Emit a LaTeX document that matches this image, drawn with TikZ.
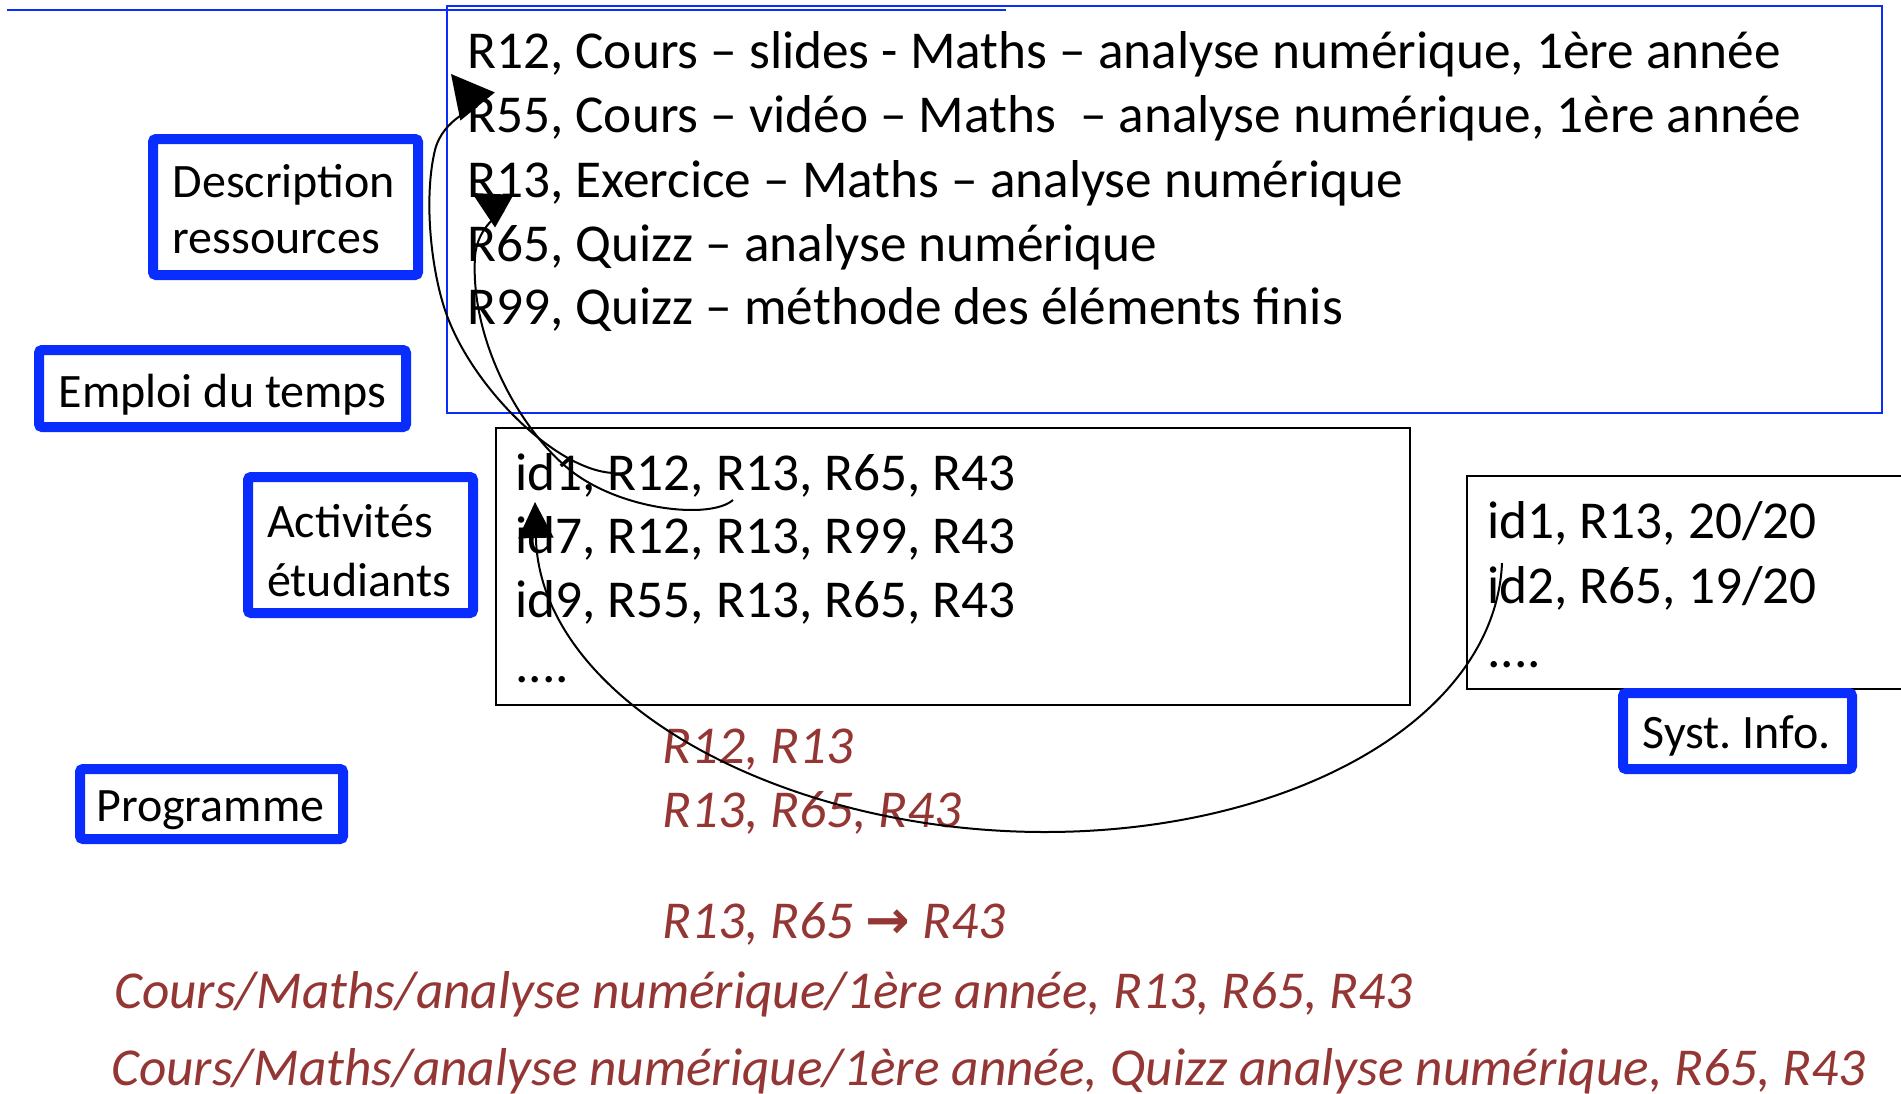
\documentclass[tikz,border=0pt]{standalone}
\usepackage{fontspec}
\setmainfont{Carlito}
\newfontfamily\symfont{DejaVu Sans}
\usetikzlibrary{arrows.meta}
\definecolor{lblue}{RGB}{10,45,255}
\definecolor{dred}{RGB}{148,54,52}
\frenchspacing
\begin{document}
\begin{tikzpicture}[x=1pt,y=-1pt,
  conn/.style={line width=2pt, black},
  labbox/.style={draw=lblue, line width=10pt, rounded corners=3pt, inner sep=0pt},
  databox/.style={draw=black, line width=2pt, inner sep=0pt},
  bigtxt/.style={anchor=base west, inner sep=0pt, font=\fontsize{53.3}{64}\selectfont},
  labtxt/.style={anchor=base west, inner sep=0pt, font=\fontsize{48}{57}\selectfont},
  redtxt/.style={anchor=base west, inner sep=0pt, text=dred, font=\fontsize{53.3}{64}\selectfont\itshape}]
\fill[white] (0,0) rectangle (1901,1093);
\useasboundingbox (0,0) rectangle (1901,1093);
\clip (0,0) rectangle (1901,1093);

% top blue line and resource box
\draw[lblue, line width=2.5pt] (7,10) -- (1006,10);
\node[draw=lblue, line width=2pt, inner sep=0pt, minimum width=1435pt, minimum height=407pt] (res) at (1164.5,209.5) {};

% data boxes
\node[databox, minimum width=914pt, minimum height=277pt] (act) at (953,566.5) {};
\node[databox, minimum width=493pt, minimum height=213pt] (si) at (1713.5,582.5) {};

% label boxes
\node[labbox, minimum width=265pt, minimum height=136pt] (desc) at (285.5,207) {};
\node[labbox, minimum width=367pt, minimum height=77pt] (emploi) at (222.5,388.5) {};
\node[labbox, minimum width=225pt, minimum height=136pt] (activ) at (360.5,545) {};
\node[labbox, minimum width=263pt, minimum height=70pt] (prog) at (211.5,804) {};
\node[labbox, minimum width=229pt, minimum height=76pt] (syst) at (1737.5,731) {};

% label texts
\node[labtxt] (desct1) at (172.5,197) {Description};
\node[labtxt] (desct2) at (172.5,253) {ressources};
\node[labtxt] (emploit) at (58.5,407) {Emploi du temps};
\node[labtxt] (activt1) at (267,537) {Activités};
\node[labtxt] (activt2) at (267,596) {étudiants};
\node[labtxt] (progt) at (96,821) {Programme};
\node[labtxt] (systt) at (1642.5,748) {Syst. Info.};

% resource lines
\node[bigtxt] (r1) at (467,68) {R12, Cours – slides - Maths – analyse numérique, 1ère année};
\node[bigtxt] (r2) at (467,132) {R55, Cours – vidéo – Maths~ – analyse numérique, 1ère année};
\node[bigtxt] (r3) at (467,197) {R13, Exercice – Maths – analyse numérique};
\node[bigtxt] (r4) at (467,261) {R65, Quizz – analyse numérique};
\node[bigtxt] (r5) at (467,324) {R99, Quizz – méthode des éléments finis};

% activity lines
\node[bigtxt] (a1) at (515,490) {id1, R12, R13, R65, R43};
\node[bigtxt] (a2) at (515,553) {id7, R12, R13, R99, R43};
\node[bigtxt] (a3) at (515,617) {id9, R55, R13, R65, R43};
\node[bigtxt] (a4) at (515,682) {....};

% SI lines
\node[bigtxt] (s1) at (1487,538) {id1, R13, 20/20};
\node[bigtxt] (s2) at (1487,603) {id2, R65, 19/20};
\node[bigtxt] (s3) at (1487,667) {....};

% red texts
\node[redtxt] (p1) at (662,763) {R12, R13};
\node[redtxt] (p2) at (662,827) {R13, R65, R43};
\node[redtxt] (p3) at (662,938) {R13, R65 {\upshape\symfont\bfseries →} R43};
\node[redtxt] (p4) at (114,1008) {Cours/Maths/analyse numérique/1ère année, R13, R65, R43};
\node[redtxt] (p5) at (111,1085) {Cours/Maths/analyse numérique/1ère année, Quizz analyse numérique, R65, R43};

% connector end points
\coordinate (aS) at (613,473);
\coordinate (aT) at (451,74);
\coordinate (bS) at (733,500);
\coordinate (bT) at (472,193);
\coordinate (cS) at (1502,563);
\coordinate (cT) at (535,502);

\draw[conn, -{Triangle[length=42pt,width=44pt]}] (aS) .. controls (555,470) and (470,385) .. (445,310)
  .. controls (430,265) and (424,195) .. (435,150)
  .. controls (443,118) and (478,107) .. (aT);
\draw[conn, -{Triangle[length=37pt,width=37pt]}] (bS) .. controls (710,520) and (620,510) .. (570,470)
  .. controls (520,430) and (470,340) .. (475,257)
  .. controls (477,225) and (504,211) .. (bT);
\draw[conn, -{Triangle[length=36pt,width=35pt]}] (cS) .. controls (1495,720) and (1290,832) .. (1045,832)
  .. controls (780,832) and (540,700) .. (cT);
\end{tikzpicture}
\end{document}
